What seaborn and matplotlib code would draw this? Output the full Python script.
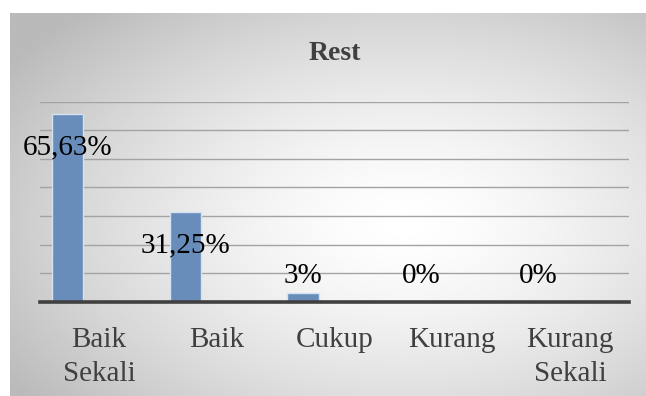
import numpy as np
import pandas as pd
import matplotlib
matplotlib.use("Agg")
import matplotlib.pyplot as plt
import seaborn as sns

# Penilaian "Rest"
kategori = ["Baik\nSekali", "Baik", "Cukup", "Kurang", "Kurang\nSekali"]
nilai = [65.63, 31.25, 3, 0, 0]
label = ["65,63%", "31,25%", "3%", "0%", "0%"]
# excel chart had three series, only the first one is filled
seri = ["Rest", "Seri 2", "Seri 3"]

df = pd.DataFrame({"kategori": kategori, "nilai": nilai, "seri": seri[0]})

sns.set_style("white")
plt.rcParams["font.family"] = ["Liberation Serif", "DejaVu Serif"]

fig = plt.figure(figsize=(6.46, 3.96), dpi=100)

# radial gradient background like the excel chart area
bg = fig.add_axes([10 / 646, 0, 636 / 646, 383 / 396], zorder=0)
yy, xx = np.mgrid[0:1:200j, 0:1:330j]
r = np.sqrt(((xx - 0.62) / 0.75) ** 2 + ((yy - 0.45) / 0.75) ** 2)
shade = 1.0 - 0.27 * np.clip(r, 0, 1) ** 1.5
bg.imshow(shade, cmap="gray", vmin=0, vmax=1, aspect="auto",
          extent=[0, 1, 0, 1], origin="lower", interpolation="bicubic")
bg.set_axis_off()

ax = fig.add_axes([40 / 646, 1 - 301.7 / 396, 589 / 646, 200 / 396], zorder=1)
ax.patch.set_alpha(0)

sns.barplot(data=df, x="kategori", y="nilai", hue="seri", hue_order=seri,
            palette=["#5b8cc8", "#c0504d", "#9bbb59"], width=0.8, dodge=True,
            edgecolor="#d5e2f2", linewidth=1, legend=False, ax=ax, zorder=2)

ax.set_ylim(0, 70)
ax.set_yticks(np.arange(0, 71, 10))
ax.set_yticklabels([])
ax.tick_params(axis="y", length=0)
ax.yaxis.grid(True, color="#a3a3a3", linewidth=1)
ax.set_axisbelow(True)
for s in ["left", "right", "top"]:
    ax.spines[s].set_visible(False)
ax.spines["bottom"].set_color("#404040")
ax.spines["bottom"].set_linewidth(2.6)
ax.spines["bottom"].set_zorder(3)

ax.set_xlabel("")
ax.set_ylabel("")
ax.tick_params(axis="x", length=0, pad=18, labelsize=21, labelcolor="#404040")
for t in ax.get_xticklabels():
    t.set_linespacing(1.4)

for p, v, lab in zip(ax.patches, nilai, label):
    cx = p.get_x() + p.get_width() / 2
    ax.text(cx, max(v - 11.5, 9), lab, ha="center", va="center",
            fontsize=21, color="black", zorder=4)

fig.text(335 / 646, 1 - 53 / 396, "Rest", ha="center", va="center",
         fontsize=20, fontweight="bold", color="#404040")

fig.savefig("out.png", dpi=100)
